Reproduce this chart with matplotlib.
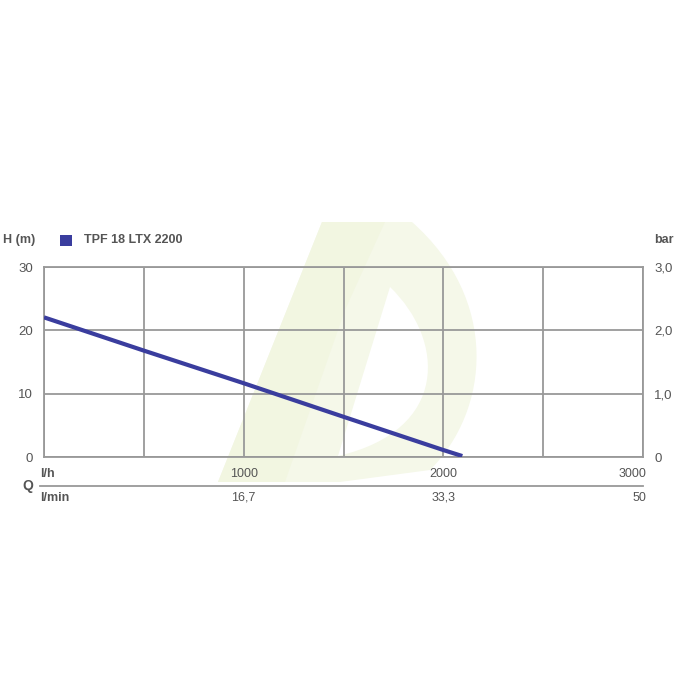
import matplotlib.pyplot as plt
from matplotlib.patches import Polygon, PathPatch
from matplotlib.path import Path

# pump curve
flow_lh = [0, 500, 1000, 1500, 2000, 2095]
head_m = [22.05, 16.8, 11.65, 6.35, 1.1, 0.15]
series_name = 'TPF 18 LTX 2200'

h_ticks = [0, 10, 20, 30]
bar_ticks = [0, 1.0, 2.0, 3.0]
bar_labels = ['0', '1,0', '2,0', '3,0']
lh_ticks = [1000, 2000, 3000]
lmin_labels = ['16,7', '33,3', '50']

grey = '#999999'
txt = '#555555'
blue = '#3a3d9e'
fs = 9

plt.rcParams['font.family'] = ['Liberation Sans', 'DejaVu Sans']

fig = plt.figure(figsize=(7, 7), dpi=100)
W = H = 700.0


def fx(x):
    return x / W


def fy(y):
    return 1 - y / H


# watermark "D" (decoration, figure pixel coords), kept behind the axes
outer = Path([(fx(218), fy(482)), (fx(322), fy(222)), (fx(412), fy(222)),
              (fx(500), fy(300)), (fx(490), fy(410)),
              (fx(430), fy(470)), (fx(340), fy(482)), (fx(218), fy(482))],
             [Path.MOVETO, Path.LINETO, Path.LINETO,
              Path.CURVE4, Path.CURVE4, Path.CURVE4,
              Path.LINETO, Path.CLOSEPOLY])
fig.patches.append(PathPatch(outer, transform=fig.transFigure, fc='#f5f8e9', ec='none', zorder=-3))
stroke = Polygon([(fx(218), fy(482)), (fx(322), fy(222)), (fx(385), fy(222)), (fx(345), fy(310)), (fx(285), fy(482))],
                 closed=True, transform=fig.transFigure, fc='#f2f6e1', ec='none', zorder=-2)
fig.patches.append(stroke)
hole = Path([(fx(390), fy(287)), (fx(445), fy(340)), (fx(450), fy(430)),
             (fx(338), fy(456)), (fx(390), fy(287))],
            [Path.MOVETO, Path.CURVE4, Path.CURVE4, Path.CURVE4, Path.CLOSEPOLY])
fig.patches.append(PathPatch(hole, transform=fig.transFigure, fc='white', ec='none', zorder=-1))

ax = fig.add_axes([44 / W, 1 - 457 / H, (643 - 44) / W, (457 - 267) / H])
ax.set_zorder(2)
ax.patch.set_alpha(0)
ax.set_xlim(0, 3000)
ax.set_ylim(0, 30)
ax.set_xticks(range(0, 3001, 500))
ax.set_yticks(h_ticks)
ax.grid(True, color=grey, lw=1.3)
ax.tick_params(length=0, labelbottom=False, labelsize=fs + 0.5, colors=txt, pad=8)
for s in ax.spines.values():
    s.set_color(grey)
    s.set_linewidth(1.3)

ax.plot(flow_lh, head_m, color=blue, lw=3, solid_capstyle='butt', zorder=3)

ax2 = ax.twinx()
ax2.set_zorder(3)
ax2.patch.set_alpha(0)
ax2.set_ylim(0, 3.0)
ax2.set_yticks(bar_ticks)
ax2.set_yticklabels(bar_labels)
ax2.tick_params(length=0, labelsize=fs + 0.5, colors=txt, pad=8)
for s in ax2.spines.values():
    s.set_visible(False)

# headers
fig.text(fx(3), fy(240), 'H (m)', fontsize=fs, fontweight='bold', color=txt, va='center')
fig.patches.append(Polygon([(fx(60), fy(235)), (fx(72), fy(235)), (fx(72), fy(246)), (fx(60), fy(246))],
                           closed=True, transform=fig.transFigure, fc=blue, ec='none'))
fig.text(fx(84), fy(240), series_name, fontsize=fs, fontweight='bold', color=txt, va='center')
fig.text(fx(654), fy(240), 'bar', fontsize=fs, fontweight='bold', color=txt, va='center')

# flow scales
fig.text(fx(40), fy(474), 'l/h', fontsize=fs, fontweight='bold', color=txt, va='center')
fig.text(fx(40), fy(498), 'l/min', fontsize=fs, fontweight='bold', color=txt, va='center')
fig.text(fx(33), fy(486), 'Q', fontsize=fs + 1, fontweight='bold', color=txt, va='center', ha='right')
fig.add_artist(plt.Line2D([fx(40), fx(643)], [fy(486), fy(486)], transform=fig.transFigure, color=grey, lw=1.3))
for v, lm in zip(lh_ticks, lmin_labels):
    xp = ax.transData.transform((v, 0))[0]
    ha = 'center'
    if v == lh_ticks[-1]:
        xp += 3
        ha = 'right'
    x_fig = fig.transFigure.inverted().transform((xp, 0))[0]
    fig.text(x_fig, fy(474), str(v), fontsize=fs, color=txt, va='center', ha=ha)
    fig.text(x_fig, fy(498), lm, fontsize=fs, color=txt, va='center', ha=ha)

fig.savefig('out.png', dpi=100)
plt.close(fig)
